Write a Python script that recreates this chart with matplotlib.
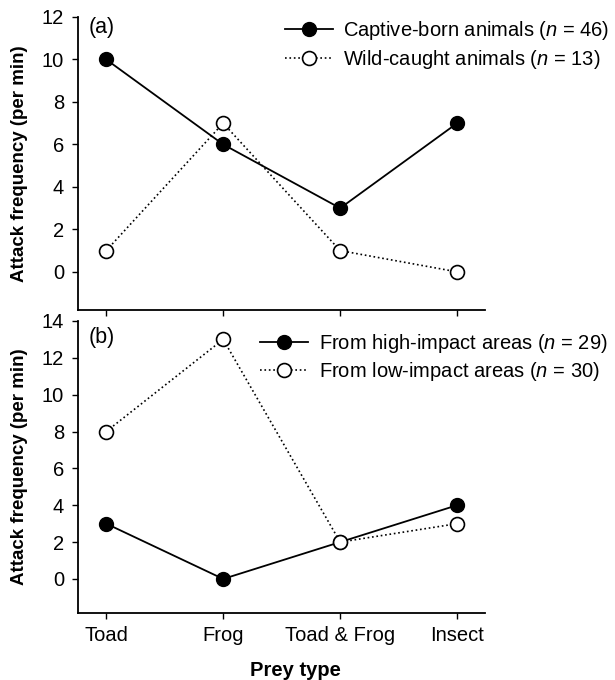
import matplotlib.pyplot as plt

plt.rcParams['font.family'] = ['Liberation Sans', 'DejaVu Sans']
plt.rcParams['mathtext.fontset'] = 'custom'
plt.rcParams['mathtext.it'] = 'Liberation Sans:italic'
plt.rcParams['mathtext.rm'] = 'Liberation Sans'

prey = ["Toad", "Frog", "Toad & Frog", "Insect"]

# panel (a): origin of animals
captive = [10, 6, 3, 7]
wild = [1, 7, 1, 0]

# panel (b): impact level of collection site
high_impact = [3, 0, 2, 4]
low_impact = [8, 13, 2, 3]

fig = plt.figure(figsize=(6.15, 6.8), dpi=100)
ax1 = fig.add_axes([0.127, 0.544, 0.662, 0.431])
ax2 = fig.add_axes([0.127, 0.0985, 0.662, 0.4295])

x = range(len(prey))
fs = 14.5


def style(ax, ylim, yticks):
    ax.set_xlim(-0.24, 3.24)
    ax.set_ylim(*ylim)
    ax.set_yticks(yticks)
    ax.set_xticks(list(x))
    for s in ["top", "right"]:
        ax.spines[s].set_visible(False)
    for s in ["left", "bottom"]:
        ax.spines[s].set_linewidth(1.3)
    ax.tick_params(direction="out", length=4, width=1, labelsize=fs, pad=6)
    ax.set_ylabel("Attack frequency (per min)", fontsize=13.5, fontweight="bold")
    ax.yaxis.set_label_coords(-0.123, 0.5)


def series(ax, vals, filled, label):
    if filled:
        ax.plot(x, vals, "-", color="black", lw=1.3, marker="o", ms=10,
                mfc="black", mec="black", label=label, zorder=3)
    else:
        ax.plot(x, vals, ":", color="black", lw=1.2, marker="o", ms=10,
                mfc="white", mec="black", mew=1.2, label=label, zorder=4)


def legend(ax, anchor):
    ax.legend(loc="upper left", bbox_to_anchor=anchor, bbox_transform=fig.transFigure,
              frameon=False, fontsize=fs, handlelength=2.4, handletextpad=0.5,
              labelspacing=0.28, borderpad=0, borderaxespad=0)


series(ax1, captive, True, r"Captive-born animals ($n$ = 46)")
series(ax1, wild, False, r"Wild-caught animals ($n$ = 13)")
style(ax1, (-1.8, 12), range(0, 13, 2))
ax1.set_xticklabels([])
ax1.text(0.025, 1.0, "(a)", transform=ax1.transAxes, fontsize=fs + 1, va="top")
legend(ax1, (0.463, 0.972))

series(ax2, high_impact, True, r"From high-impact areas ($n$ = 29)")
series(ax2, low_impact, False, r"From low-impact areas ($n$ = 30)")
style(ax2, (-1.85, 14), range(0, 15, 2))
ax2.set_xticklabels(prey)
ax2.tick_params(axis="x", pad=5)
ax2.text(0.025, 0.98, "(b)", transform=ax2.transAxes, fontsize=fs + 1, va="top")
legend(ax2, (0.423, 0.512))
ax2.set_xlabel("Prey type", fontsize=fs, fontweight="bold")
ax2.xaxis.set_label_coords(0.533, -0.165)

fig.savefig("out.png", dpi=100)
